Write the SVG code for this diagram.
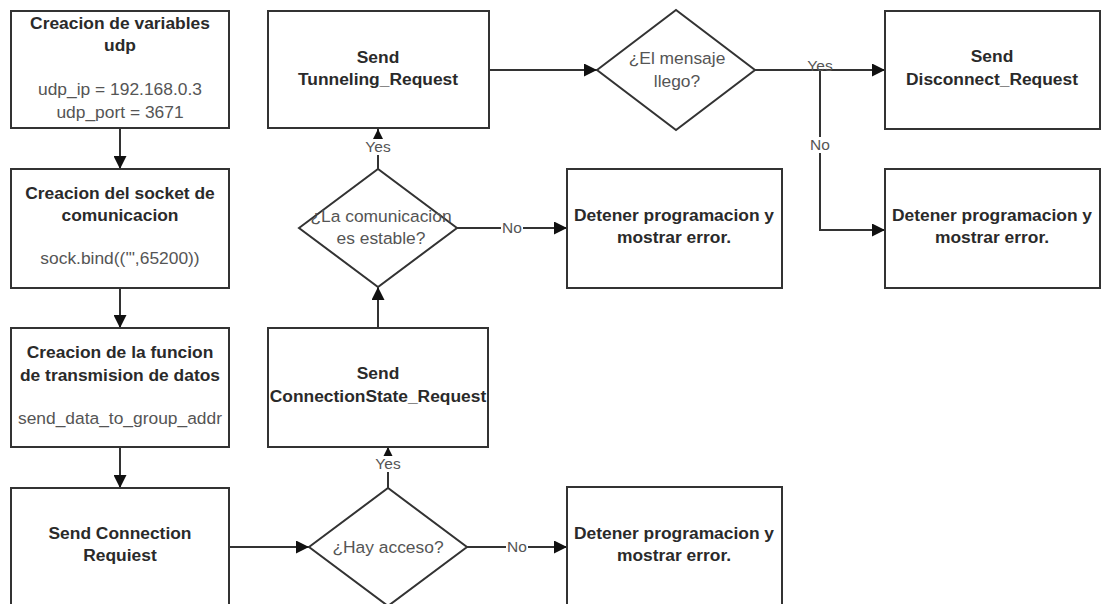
<svg xmlns="http://www.w3.org/2000/svg" width="1102" height="604" viewBox="0 0 1102 604">
<style>
.box{fill:#fff;stroke:#333;stroke-width:2}
.t{font-family:"Liberation Sans",Arial,sans-serif;font-size:17.4px;text-anchor:middle}
.b{font-weight:bold;fill:#2a2a2a}
.r{fill:#555}
.lbl{font-family:"Liberation Sans",Arial,sans-serif;font-size:15.5px;fill:#555;text-anchor:middle}
.ln{fill:none;stroke:#333;stroke-width:2}
</style>
<defs>
<marker id="ah" viewBox="0 0 10 10" refX="10" refY="5" markerWidth="6.5" markerHeight="6.5" orient="auto" markerUnits="strokeWidth">
<path d="M0,0 L10,5 L0,10 z" fill="#111"/>
</marker>
</defs>
<rect width="1102" height="604" fill="#fff"/>
<g id="connectors">
<path class="ln" d="M120,129 V169" marker-end="url(#ah)"/>
<path class="ln" d="M120,288 V328" marker-end="url(#ah)"/>
<path class="ln" d="M120,447 V488" marker-end="url(#ah)"/>
<path class="ln" d="M229,547 H309" marker-end="url(#ah)"/>
<path class="ln" d="M388,488 V447" marker-end="url(#ah)"/>
<path class="ln" d="M467,547 H567" marker-end="url(#ah)"/>
<path class="ln" d="M378,328 V287" marker-end="url(#ah)"/>
<path class="ln" d="M457,228 H567" marker-end="url(#ah)"/>
<path class="ln" d="M378,169 V129" marker-end="url(#ah)"/>
<path class="ln" d="M489,70 H597" marker-end="url(#ah)"/>
<path class="ln" d="M755,70 H885" marker-end="url(#ah)"/>
<path class="ln" d="M820,70 V230 H885" marker-end="url(#ah)"/>
<rect x="373" y="456" width="30" height="16" fill="#fff"/>
<text class="lbl" x="388" y="469">Yes</text>
<rect x="506" y="539" width="22" height="16" fill="#fff"/>
<text class="lbl" x="517" y="552">No</text>
<rect x="501" y="220" width="22" height="16" fill="#fff"/>
<text class="lbl" x="512" y="233">No</text>
<rect x="363" y="139" width="30" height="16" fill="#fff"/>
<text class="lbl" x="378" y="152">Yes</text>
<text class="lbl" x="820" y="71">Yes</text>
<rect x="809" y="137" width="22" height="16" fill="#fff"/>
<text class="lbl" x="820" y="150">No</text>
</g>
<g id="n-vars">
<rect class="box" x="11" y="11" width="218" height="117"/>
<text class="t b" x="120" y="29">Creacion de variables</text>
<text class="t b" x="120" y="51">udp</text>
<text class="t r" x="120" y="95">udp_ip = 192.168.0.3</text>
<text class="t r" x="120" y="118">udp_port = 3671</text>
</g>
<g id="n-socket">
<rect class="box" x="11" y="169" width="218" height="119"/>
<text class="t b" x="120" y="199">Creacion del socket de</text>
<text class="t b" x="120" y="221">comunicacion</text>
<text class="t r" x="120" y="264">sock.bind(('",65200))</text>
</g>
<g id="n-func">
<rect class="box" x="11" y="328" width="218" height="119"/>
<text class="t b" x="120" y="358">Creacion de la funcion</text>
<text class="t b" x="120" y="381">de transmision de datos</text>
<text class="t r" x="120" y="424">send_data_to_group_addr</text>
</g>
<g id="n-connreq">
<rect class="box" x="11" y="488" width="218" height="130"/>
<text class="t b" x="120" y="539">Send Connection</text>
<text class="t b" x="120" y="561">Requiest</text>
</g>
<g id="n-tunnel">
<rect class="box" x="268" y="11" width="221" height="117"/>
<text class="t b" x="378" y="63">Send</text>
<text class="t b" x="378" y="85">Tunneling_Request</text>
</g>
<g id="n-connstate">
<rect class="box" x="268" y="328" width="220" height="119"/>
<text class="t b" x="378" y="379">Send</text>
<text class="t b" x="378" y="402">ConnectionState_Request</text>
</g>
<g id="n-llego">
<polygon class="box" points="597,70 676,10 755,70 676,130"/>
<text class="t r" x="677" y="64">¿El mensaje</text>
<text class="t r" x="677" y="87">llego?</text>
</g>
<g id="n-estable">
<polygon class="box" points="299,228 378,169 457,228 378,287"/>
<text class="t r" x="381" y="222">¿La comunicacion</text>
<text class="t r" x="381" y="244">es estable?</text>
</g>
<g id="n-acceso">
<polygon class="box" points="309,547 388,488 467,547 388,606"/>
<text class="t r" x="388" y="553">¿Hay acceso?</text>
</g>
<g id="n-err1">
<rect class="box" x="567" y="169" width="215" height="119"/>
<text class="t b" x="674" y="221">Detener programacion y</text>
<text class="t b" x="674" y="243">mostrar error.</text>
</g>
<g id="n-err2">
<rect class="box" x="567" y="487" width="215" height="130"/>
<text class="t b" x="674" y="539">Detener programacion y</text>
<text class="t b" x="674" y="561">mostrar error.</text>
</g>
<g id="n-disconnect">
<rect class="box" x="885" y="11" width="215" height="118"/>
<text class="t b" x="992" y="62">Send</text>
<text class="t b" x="992" y="85">Disconnect_Request</text>
</g>
<g id="n-err3">
<rect class="box" x="885" y="169" width="215" height="119"/>
<text class="t b" x="992" y="221">Detener programacion y</text>
<text class="t b" x="992" y="243">mostrar error.</text>
</g>
</svg>
